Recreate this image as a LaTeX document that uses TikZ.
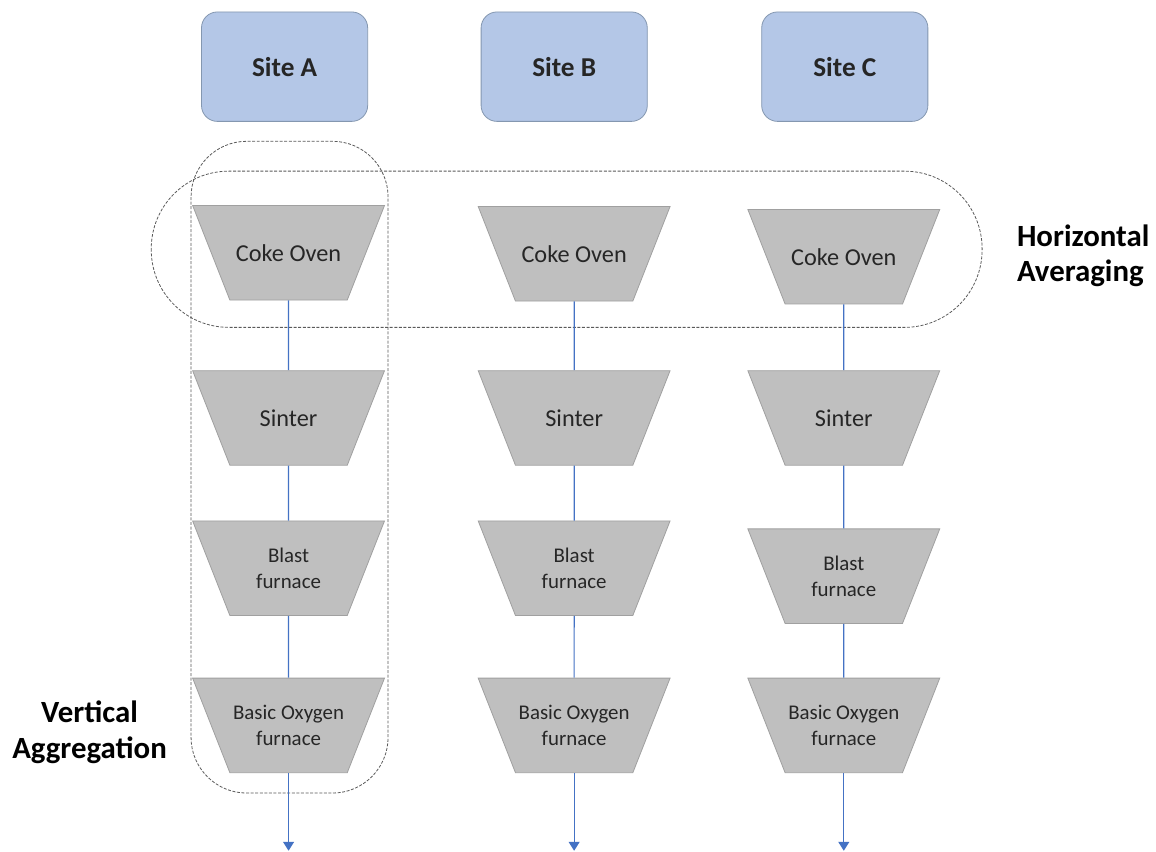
\documentclass[tikz,border=0pt]{standalone}
\usepackage{fontspec}
\setmainfont{Carlito}
\usetikzlibrary{shapes.geometric,arrows.meta}

\definecolor{siteblue}{HTML}{B4C7E7}
\definecolor{siteedge}{HTML}{8497B0}
\definecolor{stagegray}{HTML}{BFBFBF}
\definecolor{stageedge}{HTML}{A0A0A0}
\definecolor{flowblue}{HTML}{4472C4}
\definecolor{groupgray}{HTML}{5A5A5A}

% fixed text box of a stage: its width is the narrow side of the trapezium
\newcommand{\stagebox}[1]{\parbox[c][47.5pt][c]{59pt}{\centering #1}}

\begin{document}
\begin{tikzpicture}[
    x=0.5pt, y=-0.5pt,
    every node/.style={text=black!85},
    site/.style={draw=siteedge, fill=siteblue, rounded corners=8pt,
        minimum width=83.5pt, minimum height=55pt,
        font=\fontsize{13.7}{16}\selectfont\bfseries},
    stage/.style={trapezium, shape border rotate=180, trapezium angle=68.5,
        inner sep=0pt, fill=stagegray, draw=stageedge,
        font=\fontsize{12.2}{14}\selectfont},
    smallstage/.style={stage, font=\fontsize{10.5}{12.8}\selectfont},
    flow/.style={draw=flowblue, line width=0.6pt},
    group/.style={draw=groupgray, line width=0.4pt, dash pattern=on 1.5pt off 0.8pt},
    note/.style={font=\fontsize{15.5}{17.8}\selectfont\bfseries, text=black},
]

% canvas (pixel grid of the reference)
\fill[white] (0,0) rectangle (1156,856);

% === grouping outlines ===
\draw[group, rounded corners=28pt] (192,142) rectangle (390,797);
\draw[group, rounded corners=39pt] (152,172) rectangle (987,329);

% === one column per site ===
% col / site x / stage x / coke y / blast y
\foreach \col/\sx/\cx/\cy/\by in {A/286/290/254/571, B/567/577/255/571, C/849/848/258/579} {
    \node[site] (site\col) at (\sx,67) {Site \col};
    \node[stage] (coke\col) at (\cx,\cy) {\stagebox{Coke Oven}};
    \node[stage] (sinter\col) at (\cx,420) {\stagebox{Sinter}};
    \node[smallstage] (blast\col) at (\cx,\by) {\stagebox{Blast\\furnace}};
    \node[smallstage] (bof\col) at (\cx,729) {\stagebox{Basic Oxygen\\furnace}};
    \coordinate (out\col) at (\cx,855);

    % flow between stages
    \draw[flow] (coke\col) -- (sinter\col);
    \draw[flow] (sinter\col) -- (blast\col);
    \draw[flow] (blast\col) -- (bof\col);
    \draw[flow, -{Triangle[length=4.5pt, width=5.5pt]}] (bof\col) -- (out\col);
}

% === annotations ===
\node[note, align=center] (vertical) at (90,736) {Vertical\\Aggregation};
\node[note, align=left, anchor=west] (horizontal) at (1015,257) {Horizontal\\Averaging};

\end{tikzpicture}
\end{document}
